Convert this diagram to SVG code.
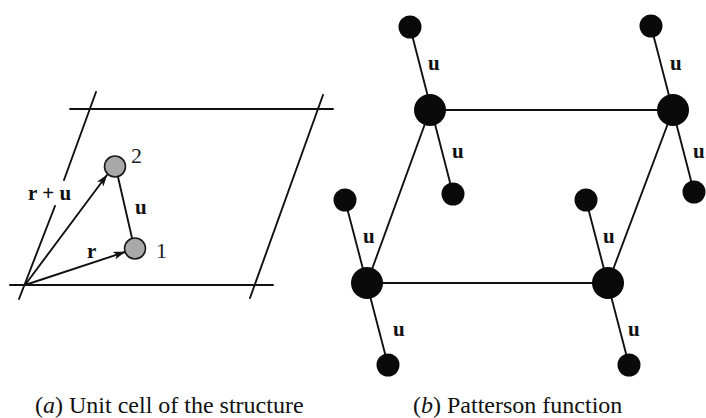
<svg xmlns="http://www.w3.org/2000/svg" width="706" height="418" viewBox="0 0 706 418">
  <style>
    .ln { stroke: #111; stroke-width: 1.9; fill: none; stroke-linecap: round; }
    .big { fill: #0a0a0a; }
    .sm { fill: #0a0a0a; }
    .gr { fill: #a9a9a9; stroke: #1a1a1a; stroke-width: 1.6; }
    .lb { font-family: "Liberation Serif", "Times New Roman", serif; font-weight: bold; font-size: 21px; fill: #111; }
    .num { font-family: "Liberation Serif", "Times New Roman", serif; font-size: 22px; fill: #222; }
    .cap { font-family: "Liberation Serif", "Times New Roman", serif; font-size: 24px; fill: #111; }
  </style>
  <defs>
    <marker id="arr" viewBox="0 0 12 8" refX="11.5" refY="4" markerWidth="12" markerHeight="8" markerUnits="userSpaceOnUse" orient="auto">
      <path d="M0,0 L12,4 L0,8 L3,4 Z" fill="#111"/>
    </marker>
  </defs>
  <rect width="706" height="418" fill="#fff"/>

  <!-- Panel (a): unit cell -->
  <g id="cell">
    <line class="ln" x1="70" y1="109" x2="333" y2="109"/>
    <line class="ln" x1="10" y1="285" x2="273" y2="285"/>
    <line class="ln" x1="96" y1="92" x2="64" y2="180"/>
    <line class="ln" x1="55" y1="206" x2="19" y2="299"/>
    <line class="ln" x1="323" y1="95" x2="250" y2="298"/>
  </g>
  <g id="connectors-a">
    <line class="ln" x1="25" y1="285" x2="107" y2="175" marker-end="url(#arr)"/>
    <line class="ln" x1="25" y1="285" x2="125" y2="252" marker-end="url(#arr)"/>
    <line class="ln" x1="118" y1="177" x2="132" y2="238"/>
  </g>
  <g id="atom2">
    <circle class="gr" cx="115" cy="166.5" r="10.5"/>
    <text class="num" x="131" y="163">2</text>
  </g>
  <g id="atom1">
    <circle class="gr" cx="135" cy="248.5" r="10.5"/>
    <text class="num" x="156" y="258">1</text>
  </g>
  <g id="labels-a">
    <text class="lb" x="28" y="200">r + u</text>
    <text class="lb" x="87" y="258">r</text>
    <text class="lb" x="135" y="214">u</text>
  </g>

  <!-- Panel (b): Patterson function -->
  <g id="connectors-b">
    <line class="ln" x1="430" y1="110" x2="673" y2="110"/>
    <line class="ln" x1="367" y1="283" x2="608" y2="283"/>
    <line class="ln" x1="430" y1="110" x2="367" y2="283"/>
    <line class="ln" x1="673" y1="110" x2="608" y2="283"/>
    <line class="ln" x1="410" y1="27" x2="453" y2="194"/>
    <line class="ln" x1="651" y1="26" x2="694" y2="192"/>
    <line class="ln" x1="345" y1="200" x2="388" y2="365"/>
    <line class="ln" x1="586" y1="200" x2="629" y2="365"/>
  </g>
  <g id="peak-tl"><circle class="big" cx="430" cy="110" r="16"/></g>
  <g id="peak-tr"><circle class="big" cx="673" cy="110" r="16"/></g>
  <g id="peak-bl"><circle class="big" cx="367" cy="283" r="16"/></g>
  <g id="peak-br"><circle class="big" cx="608" cy="283" r="16"/></g>
  <g id="peak-tl-up"><circle class="sm" cx="410" cy="27" r="11.5"/></g>
  <g id="peak-tl-down"><circle class="sm" cx="453" cy="194" r="11.5"/></g>
  <g id="peak-tr-up"><circle class="sm" cx="651" cy="26" r="11.5"/></g>
  <g id="peak-tr-down"><circle class="sm" cx="694" cy="192" r="11.5"/></g>
  <g id="peak-bl-up"><circle class="sm" cx="345" cy="200" r="11.5"/></g>
  <g id="peak-bl-down"><circle class="sm" cx="388" cy="365" r="11.5"/></g>
  <g id="peak-br-up"><circle class="sm" cx="586" cy="200" r="11.5"/></g>
  <g id="peak-br-down"><circle class="sm" cx="629" cy="365" r="11.5"/></g>
  <g id="labels-b">
    <text class="lb" x="428" y="70">u</text>
    <text class="lb" x="452" y="158">u</text>
    <text class="lb" x="670" y="70">u</text>
    <text class="lb" x="693" y="158">u</text>
    <text class="lb" x="363" y="243">u</text>
    <text class="lb" x="393" y="336">u</text>
    <text class="lb" x="603" y="243">u</text>
    <text class="lb" x="628" y="336">u</text>
  </g>

  <!-- Captions -->
  <text class="cap" x="35" y="413">(<tspan font-style="italic">a</tspan>) Unit cell of the structure</text>
  <text class="cap" x="413" y="413">(<tspan font-style="italic">b</tspan>) Patterson function</text>
</svg>
